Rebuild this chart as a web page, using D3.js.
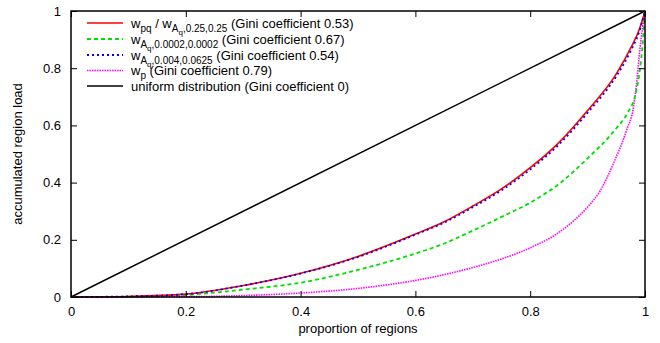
<!DOCTYPE html>
<html>
<head>
<meta charset="utf-8">
<script src="https://cdn.jsdelivr.net/npm/d3@7"></script>
<style>
  body { margin: 0; background: #fff; }
  text { font-family: "Liberation Sans", Arial, sans-serif; fill: #000; }
</style>
</head>
<body>
<script>
// proportion of regions (x) and accumulated load (y)
var xsRed   = [0, 0.1, 0.2, 0.3, 0.4, 0.5, 0.6, 0.65, 0.7, 0.75, 0.8, 0.85, 0.9, 0.95, 0.975, 0.99, 1];
var ysRed   = [0, 0.002, 0.01, 0.04, 0.083, 0.142, 0.22, 0.263, 0.318, 0.378, 0.452, 0.54, 0.652, 0.78, 0.87, 0.935, 1];
var xsBlue  = [0, 0.1, 0.2, 0.3, 0.4, 0.5, 0.6, 0.65, 0.7, 0.75, 0.8, 0.85, 0.9, 0.95, 0.975, 0.99, 1];
var ysBlue  = [0, 0.002, 0.01, 0.04, 0.082, 0.14, 0.218, 0.26, 0.314, 0.373, 0.446, 0.533, 0.644, 0.772, 0.86, 0.928, 1];
var xsGreen = [0, 0.1, 0.2, 0.3, 0.4, 0.5, 0.6, 0.65, 0.7, 0.75, 0.8, 0.85, 0.9, 0.95, 0.97, 0.983, 0.991, 0.996, 1];
var ysGreen = [0, 0.001, 0.007, 0.026, 0.05, 0.095, 0.152, 0.187, 0.232, 0.28, 0.33, 0.395, 0.485, 0.59, 0.645, 0.705, 0.794, 0.887, 1];
var xsPink  = [0, 0.2, 0.3, 0.4, 0.5, 0.6, 0.65, 0.7, 0.75, 0.8, 0.85, 0.9, 0.92, 0.945, 0.968, 0.98, 0.986, 0.991, 1];
var ysPink  = [0, 0.001, 0.005, 0.014, 0.03, 0.058, 0.078, 0.103, 0.133, 0.172, 0.226, 0.315, 0.365, 0.467, 0.584, 0.665, 0.759, 0.864, 1];
var xsUni   = [0, 1];
var ysUni   = [0, 1];
var tickVals = [0, 0.2, 0.4, 0.6, 0.8, 1];

(function () {
var width = 660, height = 343;
var mLeft = 71, mRight = 645, mTop = 11, mBottom = 297;

var svg = d3.select('body').append('svg').attr('width', width).attr('height', height);

var x = d3.scaleLinear().domain([0, 1]).range([mLeft, mRight]);
var y = d3.scaleLinear().domain([0, 1]).range([mBottom, mTop]);

function zip(xs, ys) {
  return xs.map(function (d, i) { return [d, ys[i]]; });
}

var line = d3.line()
  .x(function (d) { return x(d[0]); })
  .y(function (d) { return y(d[1]); })
  .curve(d3.curveMonotoneX);

var series = [
  { data: zip(xsUni, ysUni),     color: '#000000', dash: null,    w: 1.5 },
  { data: zip(xsPink, ysPink),   color: '#ff00ff', dash: '1.5,1', w: 1.6 },
  { data: zip(xsGreen, ysGreen), color: '#00e000', dash: '4,3',   w: 1.8 },
  { data: zip(xsRed, ysRed),     color: '#ff0000', dash: null,    w: 1.6 },
  { data: zip(xsBlue, ysBlue),   color: '#0000ff', dash: '2,3',   w: 1.8 }
];

svg.selectAll('path.series')
  .data(series)
  .enter()
  .append('path')
  .attr('class', 'series')
  .attr('d', function (d) { return line(d.data); })
  .attr('fill', 'none')
  .attr('stroke', function (d) { return d.color; })
  .attr('stroke-width', function (d) { return d.w; })
  .attr('stroke-dasharray', function (d) { return d.dash; });

// axes with inward ticks, mirrored
svg.append('g').attr('transform', 'translate(0,' + mBottom + ')')
  .call(d3.axisBottom(x).tickValues(tickVals).tickSize(-6).tickPadding(10).tickFormat(d3.format('')));
svg.append('g').attr('transform', 'translate(0,' + mTop + ')')
  .call(d3.axisTop(x).tickValues(tickVals).tickSize(-6).tickFormat(''));
svg.append('g').attr('transform', 'translate(' + mLeft + ',0)')
  .call(d3.axisLeft(y).tickValues(tickVals).tickSize(-6).tickPadding(10).tickFormat(d3.format('')));
svg.append('g').attr('transform', 'translate(' + mRight + ',0)')
  .call(d3.axisRight(y).tickValues(tickVals).tickSize(-6).tickFormat(''));

svg.selectAll('.domain').remove();
svg.selectAll('.tick line').attr('stroke', '#000');
svg.selectAll('.tick text').style('font-size', '13px').style('font-family', '"Liberation Sans", Arial, sans-serif');

svg.append('rect')
  .attr('x', mLeft).attr('y', mTop)
  .attr('width', mRight - mLeft).attr('height', mBottom - mTop)
  .attr('fill', 'none').attr('stroke', '#000').attr('stroke-width', 1.5);

svg.append('text')
  .attr('x', (mLeft + mRight) / 2).attr('y', 333)
  .attr('text-anchor', 'middle').style('font-size', '13px')
  .text('proportion of regions');

svg.append('text')
  .attr('transform', 'translate(22,' + ((mTop + mBottom) / 2) + ') rotate(-90)')
  .attr('text-anchor', 'middle').style('font-size', '13px')
  .text('accumulated region load');

// legend
var legend = [
  { color: '#ff0000', dash: null,    w: 1.6, parts: [['w', 0], ['pq', 1], [' / w', 0], ['A', 1], ['q', 2], ['0.25,0.25', 1], [' (Gini coefficient 0.53)', 0]] },
  { color: '#00e000', dash: '4,3',   w: 1.8, parts: [['w', 0], ['A', 1], ['q', 2], ['0.0002,0.0002', 1], [' (Gini coefficient 0.67)', 0]] },
  { color: '#0000ff', dash: '2,3',   w: 1.8, parts: [['w', 0], ['A', 1], ['q', 2], ['0.004,0.0625', 1], [' (Gini coefficient 0.54)', 0]] },
  { color: '#ff00ff', dash: '1.5,1', w: 1.6, parts: [['w', 0], ['p', 1], [' (Gini coefficient 0.79)', 0]] },
  { color: '#000000', dash: null,    w: 1.5, parts: [['uniform distribution (Gini coefficient 0)', 0]] }
];
var rowY = [23, 39, 55, 70.5, 86];

var lg = svg.append('g');
legend.forEach(function (item, i) {
  var yy = rowY[i];
  lg.append('line')
    .attr('x1', 87).attr('x2', 123).attr('y1', yy).attr('y2', yy)
    .attr('stroke', item.color).attr('stroke-width', item.w)
    .attr('stroke-dasharray', item.dash);
  var t = lg.append('text').attr('x', 131).attr('y', yy + 4.5).style('font-size', '13px');
  var level = 0;
  item.parts.forEach(function (p, j) {
    var shift = [0, 4, 7][p[1]] - [0, 4, 7][level];
    var size = [13, 10, 8][p[1]];
    var txt = p[0];
    if (j > 0 && p[1] === 1 && item.parts[j - 1][1] === 2) txt = ',' + txt;
    t.append('tspan').attr('dy', shift).style('font-size', size + 'px').text(txt);
    level = p[1];
  });
});
})();
</script>
</body>
</html>
